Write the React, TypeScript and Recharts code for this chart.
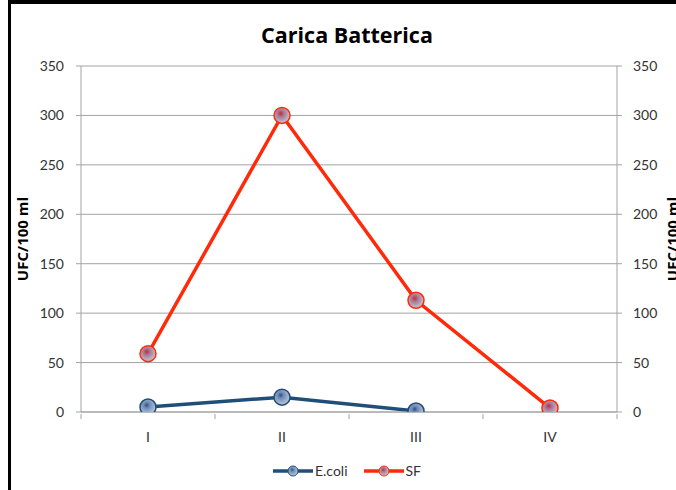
import React from "react";
import { LineChart, Line, XAxis, YAxis, CartesianGrid, Label } from "recharts";

const categories = ["I", "II", "III", "IV"];
const ecoliValues = [5, 15, 1, null];
const sfValues = [59, 300, 113, 4];
const yTicks = [0, 50, 100, 150, 200, 250, 300, 350];
const yTitle = "UFC/100 ml";

const seriesInfo = [
	{ key: "ecoli", name: "E.coli", color: "#1f4e79", grad: "gBlue" },
	{ key: "sf", name: "SF", color: "#ff2a0a", grad: "gRed" },
];

const data = categories.map((cat, i) => ({
	cat,
	ecoli: ecoliValues[i],
	sf: sfValues[i],
}));

const FONT = "Lato, 'Open Sans', sans-serif";
const TITLE_FONT = "'Open Sans', sans-serif";
const GRID = "#a3a3a3";
const TEXT = "#333333";

const AxisTitle = (props: any) => {
	const { viewBox, dx } = props;
	const x = viewBox.x + dx;
	const y = viewBox.y + viewBox.height / 2;
	return (
		<text
			x={x}
			y={y}
			transform={`rotate(-90 ${x} ${y})`}
			textAnchor="middle"
			dominantBaseline="central"
			fontFamily={TITLE_FONT}
			fontWeight="bold"
			fontSize={15}
			fill="#000"
		>
			{yTitle}
		</text>
	);
};

// category label plus separator ticks at the band edges
const CatTick = (props: any) => {
	const { x, y, payload, index } = props;
	const half = payload.offset || 0;
	const axisY = y - 6;
	return (
		<g>
			<line x1={x - half} y1={axisY} x2={x - half} y2={axisY + 5} stroke={GRID} />
			{index === categories.length - 1 && (
				<line x1={x + half} y1={axisY} x2={x + half} y2={axisY + 5} stroke={GRID} />
			)}
			<text
				x={x}
				y={y + 12}
				dy="0.71em"
				textAnchor="middle"
				fill={TEXT}
				fontFamily={FONT}
				fontSize={14}
			>
				{payload.value}
			</text>
		</g>
	);
};

const App: React.FC = () => {
	return (
		<div
			style={{
				position: "absolute",
				left: 8,
				top: 0,
				width: 668,
				height: 490,
				boxSizing: "border-box",
				borderLeft: "3px solid #000",
				borderTop: "4px solid #000",
				overflow: "hidden",
				background: "#fff",
			}}
		>
			<div
				style={{
					position: "absolute",
					left: 0,
					top: 20,
					width: 672,
					textAlign: "center",
					fontFamily: TITLE_FONT,
					fontWeight: "bold",
					fontSize: 21.5,
					lineHeight: "22px",
					color: "#000",
				}}
			>
				Carica Batterica
			</div>
			<LineChart
				width={672}
				height={486}
				data={data}
				margin={{ top: 62, right: 0, left: 0, bottom: 48 }}
			>
				<defs>
					<radialGradient id="gBlue" cx="42%" cy="38%" r="60%">
						<stop offset="0%" stopColor="#2b4f80" />
						<stop offset="30%" stopColor="#6f8ab5" />
						<stop offset="100%" stopColor="#b9c6da" />
					</radialGradient>
					<radialGradient id="gRed" cx="42%" cy="38%" r="60%">
						<stop offset="0%" stopColor="#d8203c" />
						<stop offset="35%" stopColor="#a27c96" />
						<stop offset="100%" stopColor="#c9c0cf" />
					</radialGradient>
				</defs>
				<CartesianGrid
					xAxisId="cat"
					yAxisId="left"
					vertical={false}
					stroke={GRID}
				/>
				<XAxis
					xAxisId="cat"
					dataKey="cat"
					scale="band"
					axisLine={{ stroke: GRID }}
					tickLine={false}
					tickSize={6}
					height={30}
					tick={<CatTick />}
				/>
				<YAxis
					yAxisId="left"
					type="number"
					domain={[0, 350]}
					allowDataOverflow
					ticks={yTicks}
					width={70}
					axisLine={{ stroke: GRID }}
					tickLine={{ stroke: GRID }}
					tickSize={5}
					tickMargin={12}
					tick={{ fill: TEXT, fontFamily: FONT, fontSize: 14 }}
				>
					<Label content={<AxisTitle dx={11} />} />
				</YAxis>
				<YAxis
					yAxisId="right"
					orientation="right"
					type="number"
					domain={[0, 350]}
					allowDataOverflow
					ticks={yTicks}
					width={66}
					axisLine={{ stroke: GRID }}
					tickLine={{ stroke: GRID }}
					tickSize={5}
					tickMargin={11}
					tick={{ fill: TEXT, fontFamily: FONT, fontSize: 14 }}
				>
					<Label content={<AxisTitle dx={55} />} />
				</YAxis>
				{seriesInfo.map((s) => (
					<Line
						key={s.key}
						xAxisId="cat"
						yAxisId="left"
						type="linear"
						dataKey={s.key}
						name={s.name}
						stroke={s.color}
						strokeWidth={3.5}
						dot={{ r: 8, fill: `url(#${s.grad})`, stroke: s.color, strokeWidth: 1.5 }}
						activeDot={false}
						isAnimationActive={false}
					/>
				))}
			</LineChart>
			<div
				style={{
					position: "absolute",
					left: 0,
					top: 458,
					width: 672,
					display: "flex",
					justifyContent: "center",
					alignItems: "center",
					fontFamily: FONT,
					fontSize: 14,
					color: TEXT,
				}}
			>
				{seriesInfo.map((s) => (
					<div key={s.key} style={{ display: "flex", alignItems: "center", margin: "0 8px" }}>
						<svg width={40} height={14}>
							<line x1={0} y1={7} x2={40} y2={7} stroke={s.color} strokeWidth={3.5} />
							<circle cx={20} cy={7} r={5} fill={`url(#${s.grad})`} stroke={s.color} strokeWidth={1} />
						</svg>
						<span style={{ marginLeft: 2 }}>{s.name}</span>
					</div>
				))}
			</div>
		</div>
	);
};

export default App;
